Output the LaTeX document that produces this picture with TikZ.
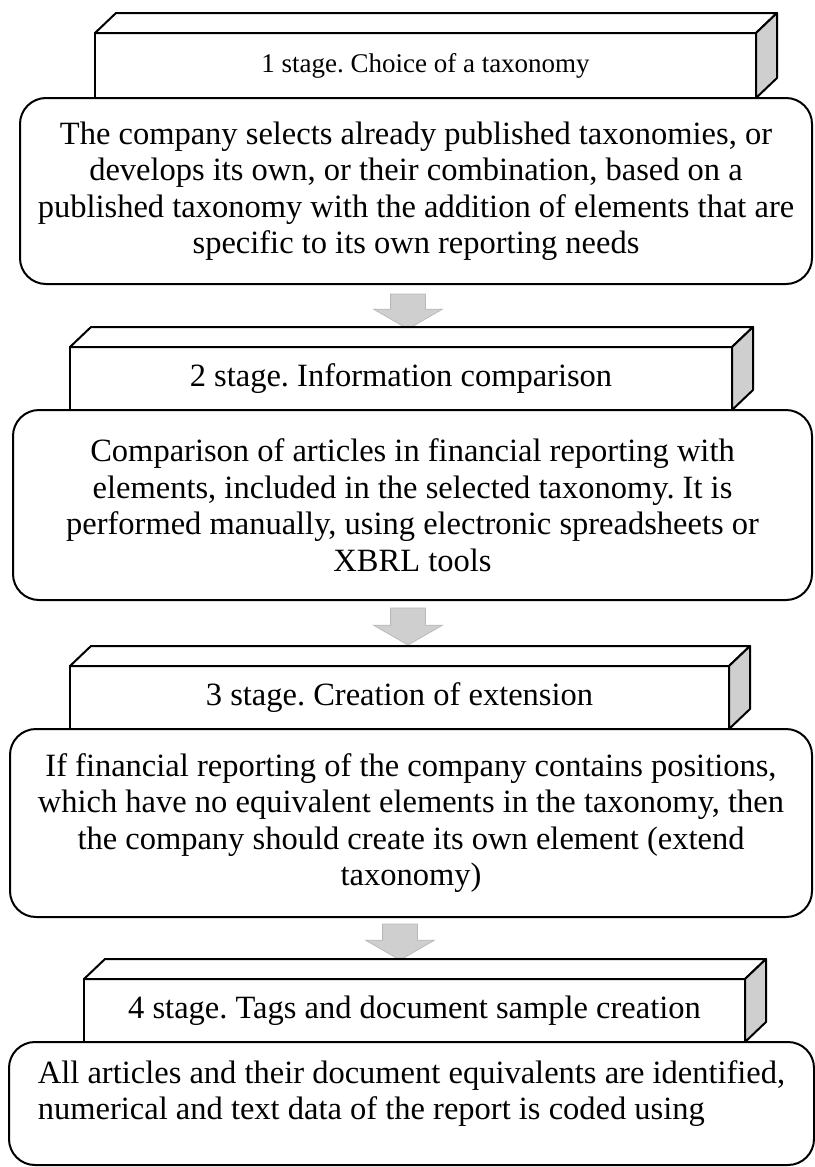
\documentclass[tikz,border=0pt]{standalone}
\usepackage{fontspec}
\setmainfont{Liberation Serif}
\usetikzlibrary{calc,shapes.arrows}

\begin{document}
\frenchspacing
\begin{tikzpicture}[x=1pt,y=1pt]
    \tikzset{every node/.style = {font=\fontsize{32.5}{36.5}\selectfont}, }
    \tikzset{stage/.style = {rectangle, draw, line width=2pt, outer sep=0pt, inner sep=0pt, text centered, minimum height=63pt}, }
    \tikzset{descr/.style = {rectangle, draw, rounded corners=26pt, line width=2pt, outer sep=0pt, inner sep=0pt, align=center}, }
    \tikzset{downarrow/.style = {single arrow, rotate=-90, draw=gray!55, fill=gray!38, line width=0.8pt, inner xsep=0pt, inner ysep=17pt, single arrow head extend=17pt, single arrow tip angle=120}, }
    \tikzset{face/.style = {draw, line width=2pt, line join=round}, }

    \useasboundingbox (0,0) rectangle (814,-1167);

    \node[stage, minimum width=661pt, minimum height=65pt, font=\fontsize{27}{30}\selectfont] (S1) at (425.5,-65.5) {1 stage. Choice of a taxonomy};
    \node[descr, minimum width=792pt, minimum height=186pt] (B1) at (416,-191) {The company selects already published taxonomies, or\\ develops its own, or their combination, based on a\\ published taxonomy with the addition of elements that are\\ specific to its own reporting needs};
    \node[downarrow, minimum height=35pt] (A1) at (408,-306.5) {};

    \node[stage, minimum width=662pt] (S2) at (401,-378.5) {2 stage. Information comparison};
    \node[descr, minimum width=799pt, minimum height=190pt] (B2) at (412.5,-505) {Comparison of articles in financial reporting with\\ elements, included in the selected taxonomy. It is\\ performed manually, using electronic spreadsheets or\\ XBRL tools};
    \node[downarrow, minimum height=37pt] (A2) at (408,-621.5) {};

    \node[stage, minimum width=659pt] (S3) at (399.5,-697.5) {3 stage. Creation of extension};
    \node[descr, minimum width=802pt, minimum height=188pt] (B3) at (411,-823) {If financial reporting of the company contains positions,\\ which have no equivalent elements in the taxonomy, then\\ the company should create its own element (extend\\ taxonomy)};
    \node[downarrow, minimum height=36pt] (A3) at (400,-937) {};

    \node[stage, minimum width=661pt] (S4) at (414.5,-1010.5) {4 stage. Tags and document sample creation};
    \node[descr, minimum width=805pt, minimum height=123pt, align=left] (B4) at (411.5,-1103.5) {All articles and their document equivalents are identified,\\ numerical and text data of the report is coded using\\[-10pt] ~};

    % depth of the stage boxes
    \foreach \s in {S1,S2,S3,S4} {
      \draw[face, fill=white] (\s.north west) -- ++(21,20) -- ($(\s.north east)+(21,20)$) -- (\s.north east) -- cycle;
      \draw[face, fill=gray!38] (\s.north east) -- ++(21,20) -- ($(\s.south east)+(21,20)$) -- (\s.south east) -- cycle;
    }

\end{tikzpicture}
\end{document}
